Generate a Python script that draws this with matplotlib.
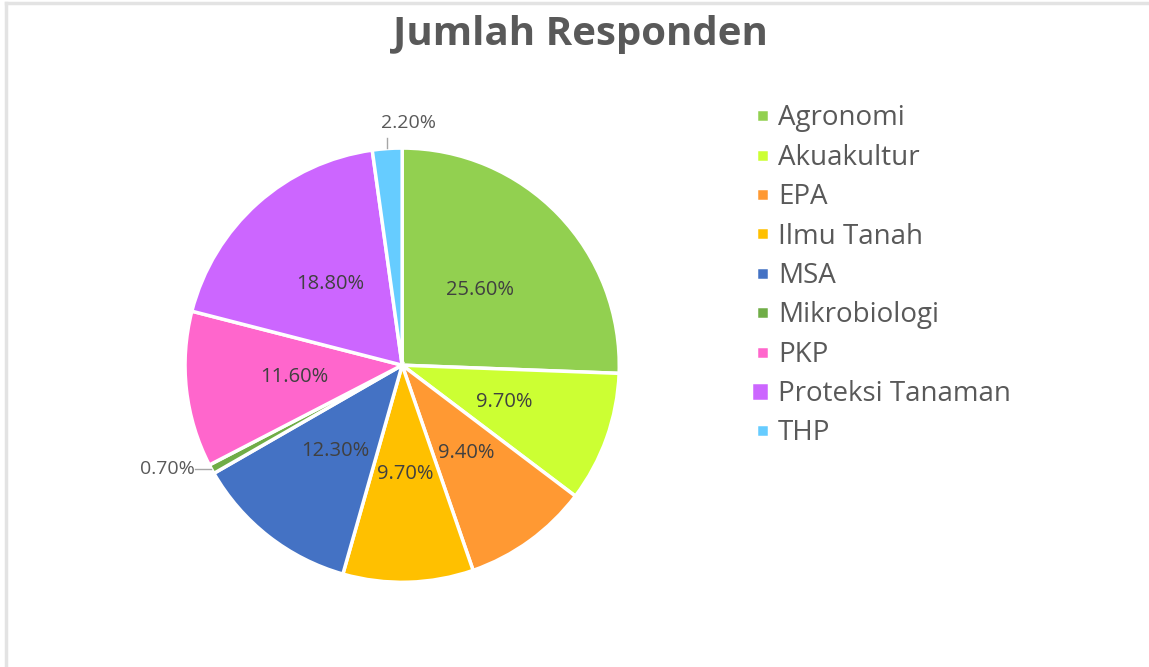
import numpy as np
import matplotlib.pyplot as plt
from matplotlib.lines import Line2D

categories = ['Agronomi', 'Akuakultur', 'EPA', 'Ilmu Tanah', 'MSA',
              'Mikrobiologi', 'PKP', 'Proteksi Tanaman', 'THP']
values = [25.6, 9.7, 9.4, 9.7, 12.3, 0.7, 11.6, 18.8, 2.2]
colors = ['#92D050', '#CCFF33', '#FF9933', '#FFC000', '#4472C4',
          '#70AD47', '#FF66CC', '#CC66FF', '#66CCFF']

plt.rcParams['font.family'] = ['Open Sans', 'DejaVu Sans']
txt_col = '#404040'

fig = plt.figure(figsize=(11.49, 6.67), dpi=100)
# light frame lines at top and left, like the screenshot
fig.add_artist(Line2D([0.0055, 1], [0.996, 0.996], color='#e3e3e3', lw=2.5))
fig.add_artist(Line2D([0.0055, 0.0055], [0, 0.996], color='#e3e3e3', lw=2.5))

ax = fig.add_axes([0.161, 0.127, 0.378, 0.651])
wedges, _ = ax.pie(values, colors=colors, startangle=90, counterclock=False,
                   wedgeprops=dict(edgecolor='white', linewidth=2.5))
ax.set_aspect('equal')
ax.set_xlim(-1, 1)
ax.set_ylim(-1, 1)

for w, v in zip(wedges, values):
    ang = np.deg2rad((w.theta1 + w.theta2) / 2)
    x, y = np.cos(ang), np.sin(ang)
    lab = f'{v:.2f}%'
    if v < 5:
        # small slices: label outside with a short leader line
        if y > 0:
            ax.plot([x, x], [y * 1.005, y * 1.05], color='#a6a6a6', lw=1, clip_on=False)
            ax.text(x - 0.028, 1.115, lab, ha='left', va='center',
                    fontsize=14, color='#595959')
        else:
            ax.plot([x * 1.005, -0.955], [y, y], color='#a6a6a6', lw=1, clip_on=False)
            ax.text(-0.955, y, lab, ha='right', va='center',
                    fontsize=14, color='#595959')
    else:
        ax.text(0.5 * x, 0.5 * y, lab, ha='center', va='center',
                fontsize=14.5, color=txt_col)

fig.text(0.505, 0.948, 'Jumlah Responden', ha='center', va='center',
         fontsize=29, fontweight='bold', color='#595959')

leg = fig.legend(wedges, categories, loc='upper left', bbox_to_anchor=(0.636, 0.881),
                 frameon=False, fontsize=20, handlelength=0.47, handleheight=0.78,
                 handletextpad=0.33, labelspacing=0.41, labelcolor='#595959')
for h in leg.legend_handles:
    x0, y0, wd, ht = h.get_x(), h.get_y(), h.get_width(), h.get_height()
    s = min(wd, ht)
    h.set_bounds(x0 + wd - s, y0 + (ht - s) / 2, s, s)
# the Proteksi Tanaman key is drawn larger in the original
h = leg.legend_handles[7]
x0, y0, s = h.get_x(), h.get_y(), h.get_width()
h.set_bounds(x0 - 0.4 * s, y0 - 0.2 * s, 1.4 * s, 1.4 * s)

fig.savefig('out.png', dpi=100, facecolor='white')
